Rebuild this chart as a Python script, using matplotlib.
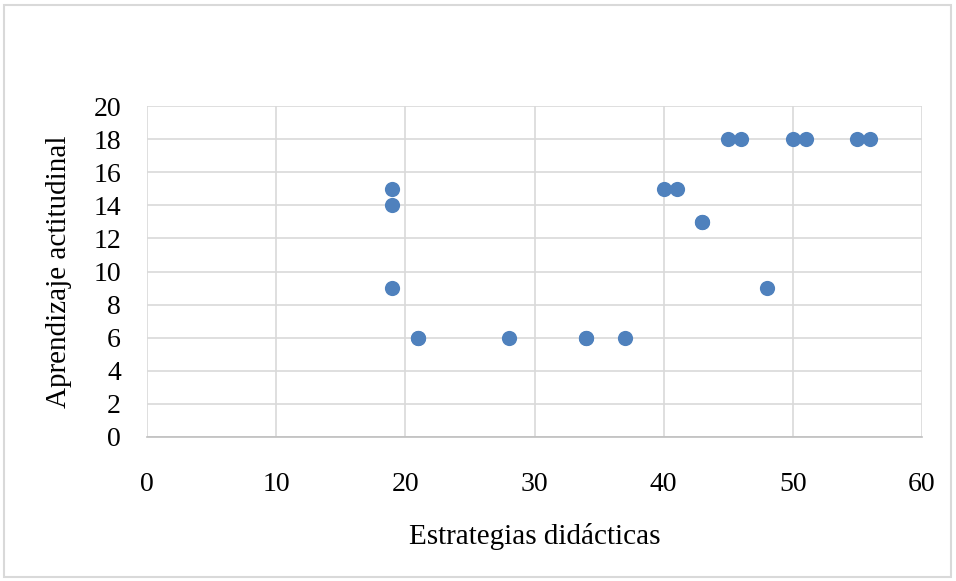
import matplotlib.pyplot as plt
from matplotlib.patches import Rectangle

estrategias = [19, 19, 19, 21, 21, 28, 34, 34, 37, 40, 41, 43, 43, 45, 46, 48, 50, 51, 55, 56]
aprendizaje = [15, 14, 9, 6, 6, 6, 6, 6, 6, 15, 15, 13, 13, 18, 18, 9, 18, 18, 18, 18]

xticks = [0, 10, 20, 30, 40, 50, 60]
yticks = [0, 2, 4, 6, 8, 10, 12, 14, 16, 18, 20]

plt.rcParams['font.family'] = ['Liberation Serif', 'DejaVu Serif']

fig = plt.figure(figsize=(9.56, 5.81), dpi=100)
fig.patches.append(Rectangle((4/956, 4/581), 947/956, 572/581, transform=fig.transFigure,
                             fill=False, edgecolor='#d9d9d9', linewidth=1.5))

ax = fig.add_axes([147/956, 1-437/581, 775/956, 331/581])
ax.scatter(estrategias, aprendizaje, s=120, color='#4f81bd', zorder=3, linewidths=0)

ax.set_xlim(0, 60)
ax.set_ylim(0, 20)
ax.set_xticks(xticks)
ax.set_yticks(yticks)
ax.grid(True, color='#d9d9d9', linewidth=1.2)
ax.set_axisbelow(True)
for s in ['top', 'right', 'left']:
    ax.spines[s].set_visible(False)
ax.spines['bottom'].set_color('#bfbfbf')
ax.spines['bottom'].set_linewidth(1.2)
ax.tick_params(length=0, labelsize=20)
ax.tick_params(axis='x', pad=25)
ax.tick_params(axis='y', pad=18.7)

ax.set_xlabel('Estrategias didácticas', fontsize=21, labelpad=19)
ax.set_ylabel('Aprendizaje actitudinal', fontsize=21, labelpad=15)

fig.savefig('out.png', dpi=100)
